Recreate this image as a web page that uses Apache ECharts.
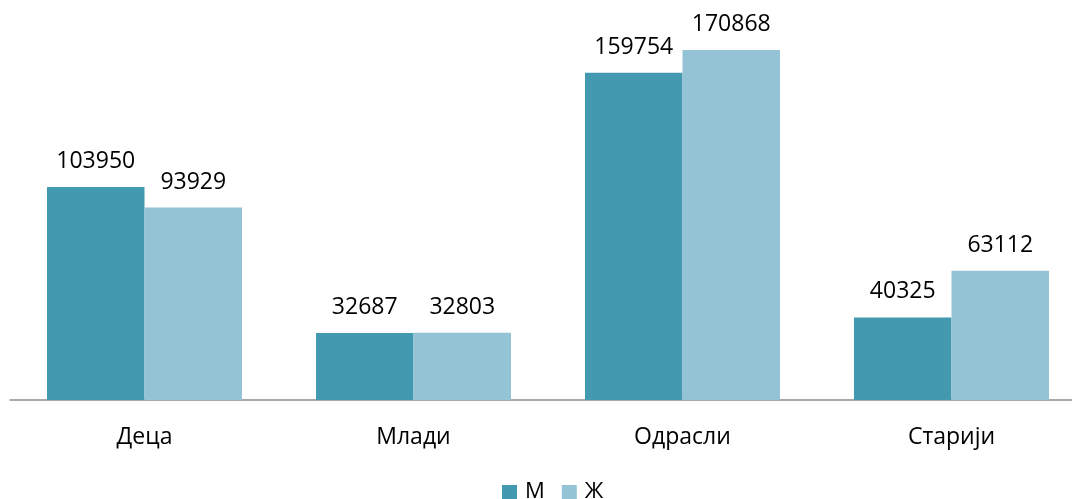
<!DOCTYPE html>
<html>
<head>
<meta charset="utf-8">
<script src="https://cdn.jsdelivr.net/npm/echarts@6/dist/echarts.min.js"></script>
<style>
  html, body { margin: 0; padding: 0; background: #fff; overflow: hidden; }
  /* the plot runs a little past the right edge of the picture */
  #myecharts { width: 1086px; height: 499px; }
</style>
</head>
<body>
<div id="myecharts"></div>
<script>
// data
var categories = ['Деца', 'Млади', 'Одрасли', 'Старији'];
var seriesNames = ['М', 'Ж'];
var maleValues = [103950, 32687, 159754, 40325];
var femaleValues = [93929, 32803, 170868, 63112];

var font = '"Open Sans", "Noto Sans", sans-serif';
var myChart = echarts.init(document.getElementById('myecharts'));

var option = {
    animation: false,
    grid: { left: 10, right: 0, top: 50, height: 350, containLabel: false },
    legend: {
        bottom: -9,
        left: 497,
        itemWidth: 15,
        itemHeight: 14,
        itemGap: 17,
        icon: 'rect',
        textStyle: { fontFamily: font, fontSize: 22, color: '#000', padding: [0, 0, 0, 3] },
        data: seriesNames
    },
    xAxis: {
        type: 'category',
        data: categories,
        axisTick: { show: false },
        axisLine: { lineStyle: { color: '#8c8c8c', width: 1.5 } },
        axisLabel: { fontFamily: font, fontSize: 23, color: '#000', margin: 26 }
    },
    yAxis: {
        type: 'value',
        min: 0,
        max: 170868,
        show: false,
        splitLine: { show: false }
    },
    series: [
        {
            name: seriesNames[0],
            type: 'bar',
            data: maleValues,
            barGap: '0%',
            barCategoryGap: '27.5%',
            itemStyle: { color: '#4399AF' },
            label: { show: true, position: 'top', distance: 14, fontFamily: font, fontSize: 23, color: '#000' }
        },
        {
            name: seriesNames[1],
            type: 'bar',
            data: femaleValues,
            barGap: '0%',
            barCategoryGap: '27.5%',
            itemStyle: { color: '#93C3D5' },
            label: { show: true, position: 'top', distance: 14, fontFamily: font, fontSize: 23, color: '#000' }
        }
    ]
};

myChart.setOption(option);
</script>
</body>
</html>
